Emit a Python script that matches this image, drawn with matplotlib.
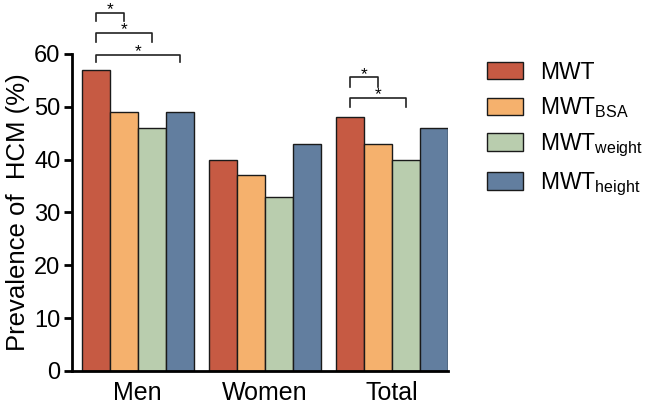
import matplotlib.pyplot as plt
import numpy as np

plt.rcParams['font.family'] = ['Liberation Sans', 'DejaVu Sans']
plt.rcParams['mathtext.fontset'] = 'custom'
plt.rcParams['mathtext.rm'] = 'Liberation Sans'

groups = ["Men", "Women", "Total"]
series = ["MWT", "MWT$_{\\mathrm{BSA}}$", "MWT$_{\\mathrm{weight}}$", "MWT$_{\\mathrm{height}}$"]
mwt = [57, 40, 48]
mwt_bsa = [49, 37, 43]
mwt_weight = [46, 33, 40]
mwt_height = [49, 43, 46]
colors = ["#C65A43", "#F5B16D", "#B9CDAE", "#627E9F"]

# significance brackets: (group, bar a, bar b, bracket top, leg bottom)
brackets = [(0, 0, 1, 67.8, 66.3), (0, 0, 2, 64.0, 62.3), (0, 0, 3, 59.8, 58.4),
            (2, 0, 1, 55.6, 53.8), (2, 0, 2, 51.7, 50.0)]

fig = plt.figure(figsize=(6.46, 4.05), dpi=100)
ax = fig.add_axes([0.111, 0.084, 0.582, 0.783])

x = np.arange(len(groups))
w = 0.22
values = [mwt, mwt_bsa, mwt_weight, mwt_height]
for i, (vals, c, lab) in enumerate(zip(values, colors, series)):
    ax.bar(x + (i - 1.5) * w, vals, w, color=c, edgecolor="#1a1a1a", linewidth=1.0, label=lab)

for g, a, b, top, leg in brackets:
    xa = g + (a - 1.5) * w
    xb = g + (b - 1.5) * w
    ax.plot([xa, xa, xb, xb], [leg, top, top, leg], color="#222222", lw=1.2, clip_on=False)
    ax.text((xa + xb) / 2, top + 0.55, "*", ha="center", va="center", fontsize=12.5, clip_on=False)

ax.set_xlim(-0.52, 2.44)
ax.set_ylim(0, 60)
ax.set_yticks([0, 10, 20, 30, 40, 50, 60])
ax.set_xticks(x)
ax.set_xticklabels(groups, fontsize=18)
ax.tick_params(axis='y', labelsize=17, width=2, length=6, direction='out', pad=2)
ax.tick_params(axis='x', length=0, pad=7)
ax.spines['top'].set_visible(False)
ax.spines['right'].set_visible(False)
ax.spines['left'].set_linewidth(2)
ax.spines['bottom'].set_linewidth(2)
ax.set_ylabel("Prevalence of  HCM (%)", fontsize=18.5, labelpad=3)

fig.legend(loc="upper left", bbox_to_anchor=(0.754, 0.85), frameon=False, fontsize=16.5,
           borderpad=0, borderaxespad=0, handlelength=1.57, handleheight=0.79,
           labelspacing=0.5, handletextpad=0.75)

fig.savefig("out.png", dpi=100)
